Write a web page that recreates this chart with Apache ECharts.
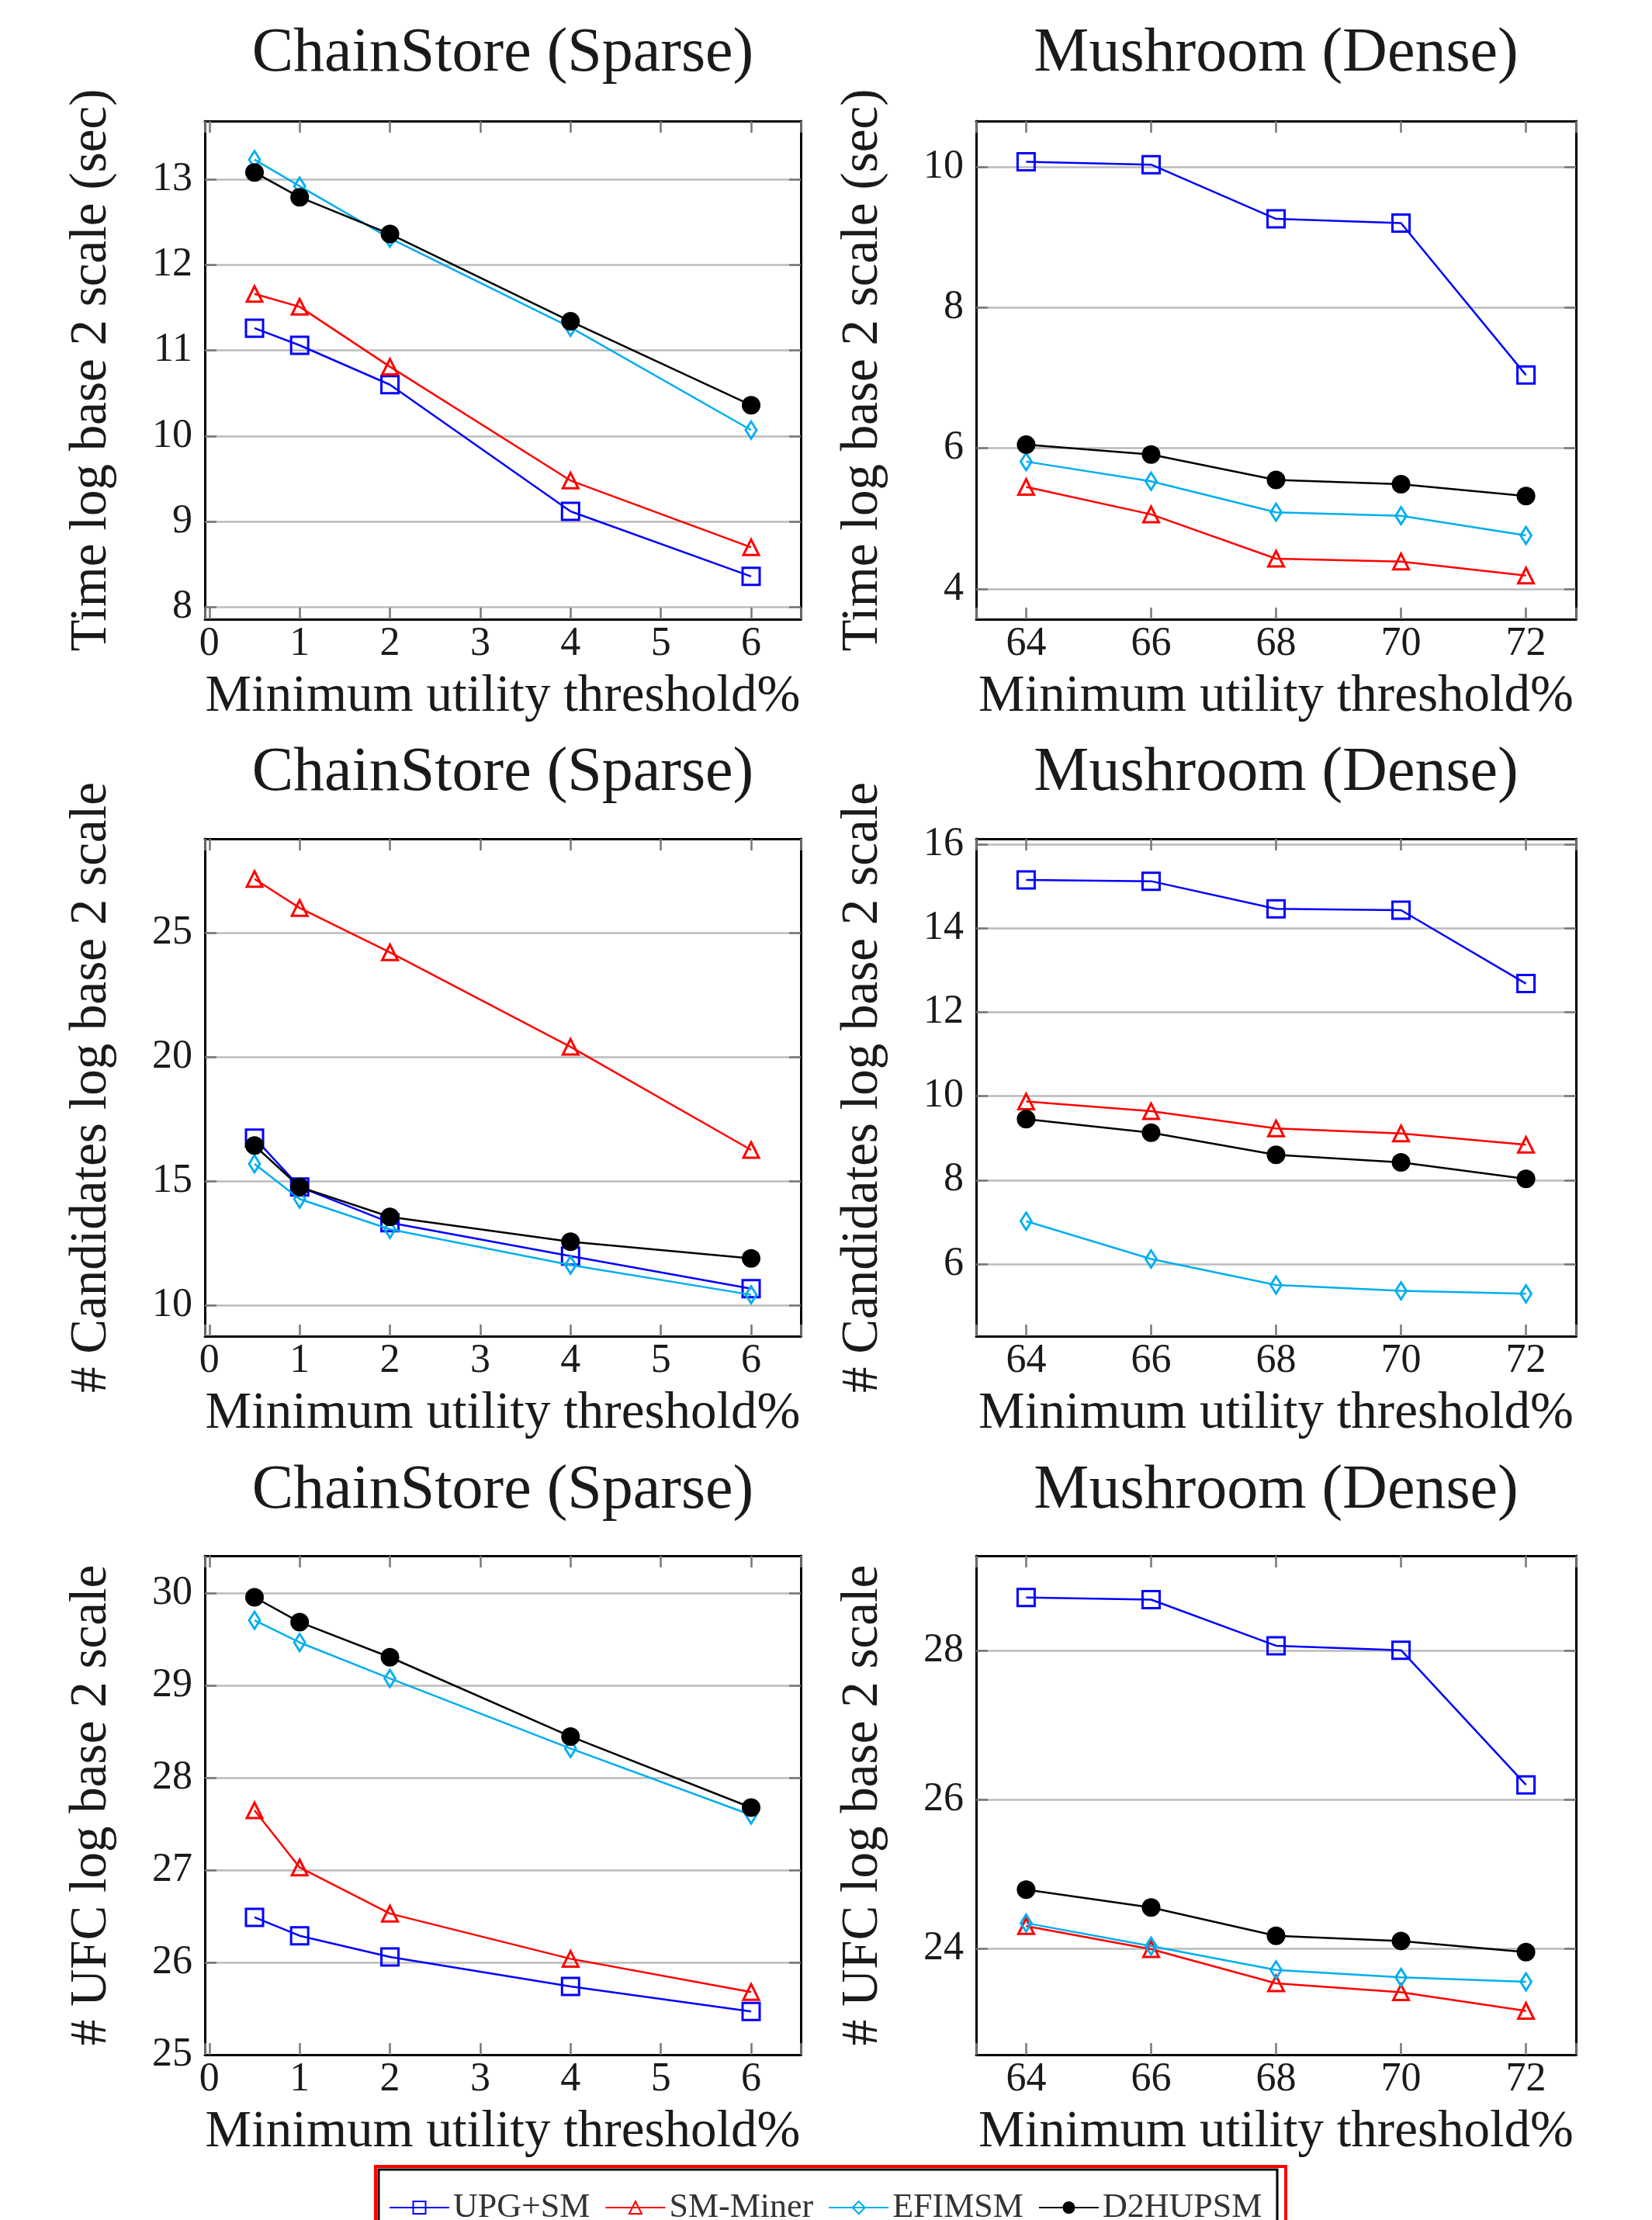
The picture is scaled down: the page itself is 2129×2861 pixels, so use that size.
<!DOCTYPE html>
<html>
<head>
<meta charset="utf-8">
<script src="https://cdn.jsdelivr.net/npm/echarts@6/dist/echarts.min.js"></script>
<style>
html, body { margin: 0; padding: 0; background: #fff; }
#chart { width: 2129px; height: 2861px; }
</style>
</head>
<body>
<div id="chart"></div>
<script>
// x values
var chainX = [0.5, 1, 2, 4, 6];
var mushX = [64, 66, 68, 70, 72];

// tick labels
var chainTicks = [0, 1, 2, 3, 4, 5, 6];
var mushTicks = [64, 66, 68, 70, 72];
var timeChainTicks = [8, 9, 10, 11, 12, 13];
var timeMushTicks = [4, 6, 8, 10];
var candChainTicks = [10, 15, 20, 25];
var candMushTicks = [6, 8, 10, 12, 14, 16];
var ufcChainTicks = [25, 26, 27, 28, 29, 30];
var ufcMushTicks = [24, 26, 28];

// Time log2 (sec)
var upgTimeChain = [11.26, 11.06, 10.60, 9.12, 8.36];
var smTimeChain = [11.66, 11.51, 10.81, 9.48, 8.70];
var efiTimeChain = [13.23, 12.92, 12.31, 11.27, 10.07];
var d2hTimeChain = [13.08, 12.79, 12.36, 11.34, 10.36];

var upgTimeMush = [10.07, 10.03, 9.26, 9.20, 7.04];
var smTimeMush = [5.45, 5.06, 4.43, 4.39, 4.19];
var efiTimeMush = [5.81, 5.53, 5.09, 5.04, 4.76];
var d2hTimeMush = [6.05, 5.91, 5.55, 5.49, 5.32];

// # Candidates log2
var upgCandChain = [16.74, 14.77, 13.33, 11.98, 10.67];
var smCandChain = [27.19, 26.02, 24.23, 20.42, 16.26];
var efiCandChain = [15.70, 14.28, 13.06, 11.62, 10.42];
var d2hCandChain = [16.44, 14.77, 13.56, 12.56, 11.89];

var upgCandMush = [15.15, 15.12, 14.46, 14.43, 12.68];
var smCandMush = [9.87, 9.64, 9.23, 9.11, 8.84];
var efiCandMush = [7.02, 6.12, 5.50, 5.36, 5.29];
var d2hCandMush = [9.45, 9.13, 8.60, 8.42, 8.03];

// # UFC log2
var upgUfcChain = [26.49, 26.29, 26.06, 25.74, 25.47];
var smUfcChain = [27.65, 27.03, 26.53, 26.04, 25.68];
var efiUfcChain = [29.71, 29.47, 29.08, 28.32, 27.60];
var d2hUfcChain = [29.96, 29.69, 29.31, 28.45, 27.68];

var upgUfcMush = [28.72, 28.69, 28.07, 28.01, 26.20];
var smUfcMush = [24.30, 23.99, 23.53, 23.41, 23.16];
var efiUfcMush = [24.34, 24.03, 23.71, 23.61, 23.55];
var d2hUfcMush = [24.79, 24.55, 24.17, 24.10, 23.95];

var names = ['UPG+SM', 'SM-Miner', 'EFIMSM', 'D2HUPSM'];
var colors = ['#0000ff', '#ff0000', '#00aeef', '#000000'];
var symbols = ['rect', 'triangle', 'diamond', 'circle'];
var symSizes = [22, 20, [14, 22], 24];

var fontFam = 'Liberation Serif';
var txtColor = '#1a1a1a';
var xName = 'Minimum utility threshold%';

var cols = [{ left: 264, width: 768 }, { left: 1258, width: 773 }];
var rows = [{ top: 156, height: 642, title: 30 }, { top: 1081, height: 641, title: 957 }, { top: 2005, height: 643, title: 1882 }];

var panels = [
    { title: 'ChainStore (Sparse)', yName: 'Time log base 2 scale (sec)', x: chainX, xTicks: chainTicks, xr: [-0.05, 6.55], yTicks: timeChainTicks, yr: [7.86, 13.68], ys: [upgTimeChain, smTimeChain, efiTimeChain, d2hTimeChain] },
    { title: 'Mushroom (Dense)', yName: 'Time log base 2 scale (sec)', x: mushX, xTicks: mushTicks, xr: [63.2, 72.8], yTicks: timeMushTicks, yr: [3.57, 10.65], ys: [upgTimeMush, smTimeMush, efiTimeMush, d2hTimeMush] },
    { title: 'ChainStore (Sparse)', yName: '# Candidates log base 2 scale', x: chainX, xTicks: chainTicks, xr: [-0.05, 6.55], yTicks: candChainTicks, yr: [8.75, 28.81], ys: [upgCandChain, smCandChain, efiCandChain, d2hCandChain] },
    { title: 'Mushroom (Dense)', yName: '# Candidates log base 2 scale', x: mushX, xTicks: mushTicks, xr: [63.2, 72.8], yTicks: candMushTicks, yr: [4.28, 16.13], ys: [upgCandMush, smCandMush, efiCandMush, d2hCandMush] },
    { title: 'ChainStore (Sparse)', yName: '# UFC log base 2 scale', x: chainX, xTicks: chainTicks, xr: [-0.05, 6.55], yTicks: ufcChainTicks, yr: [25.0, 30.41], ys: [upgUfcChain, smUfcChain, efiUfcChain, d2hUfcChain] },
    { title: 'Mushroom (Dense)', yName: '# UFC log base 2 scale', x: mushX, xTicks: mushTicks, xr: [63.2, 72.8], yTicks: ufcMushTicks, yr: [22.57, 29.28], ys: [upgUfcMush, smUfcMush, efiUfcMush, d2hUfcMush] }
];

function tickFmt(ticks) {
    return function (v) {
        var r = Math.round(v);
        if (Math.abs(v - r) < 1e-6 && ticks.indexOf(r) >= 0) return String(r);
        return '';
    };
}

function axisPair(isX, p, gi) {
    var ticks = isX ? p.xTicks : p.yTicks;
    var range = isX ? p.xr : p.yr;
    var step = ticks[1] - ticks[0];
    var base = {
        type: 'value',
        gridIndex: gi,
        min: range[0],
        max: range[1],
        minInterval: step,
        maxInterval: step,
        z: isX ? 4 : 2,
        axisLine: { show: true, onZero: false, lineStyle: { color: '#000', width: 3 } },
        axisTick: { show: true, inside: true, length: 15, lineStyle: { color: '#777', width: 2.5 } },
        splitLine: { show: false }
    };
    var main = echarts.util.merge({
        position: isX ? 'bottom' : 'left',
        axisLabel: {
            show: true, formatter: tickFmt(ticks), margin: isX ? 32 : 16,
            fontFamily: fontFam, fontSize: 52, color: txtColor,
            verticalAlign: 'middle', showMinLabel: true, showMaxLabel: true
        },
        name: isX ? xName : p.yName,
        nameLocation: 'middle',
        nameGap: isX ? 100 : 146,
        nameTextStyle: { fontFamily: fontFam, fontSize: 67, color: txtColor, verticalAlign: 'middle' },
        splitLine: isX ? { show: false } : { show: true, lineStyle: { color: '#bbbbbb', width: 2.5 } }
    }, base, false);
    var mirror = echarts.util.merge({
        position: isX ? 'top' : 'right',
        axisLabel: { show: false }
    }, base, false);
    return [main, mirror];
}

var grids = [], xAxes = [], yAxes = [], titles = [], series = [];
panels.forEach(function (p, i) {
    var c = cols[i % 2], r = rows[Math.floor(i / 2)];
    grids.push({ left: c.left, top: r.top, width: c.width, height: r.height, containLabel: false });
    titles.push({
        text: p.title, left: c.left + c.width / 2, top: r.title, textAlign: 'center', padding: 0,
        textStyle: { fontFamily: fontFam, fontSize: 80, fontWeight: 'normal', color: txtColor, lineHeight: 80 }
    });
    xAxes = xAxes.concat(axisPair(true, p, i));
    yAxes = yAxes.concat(axisPair(false, p, i));
    p.ys.forEach(function (vals, k) {
        var pts = p.x.map(function (xv, j) { return [xv, vals[j]]; });
        var filled = k === 3;
        series.push({
            name: names[k],
            type: 'line',
            xAxisIndex: 2 * i,
            yAxisIndex: 2 * i,
            data: pts,
            symbol: symbols[k],
            symbolSize: symSizes[k],
            showAllSymbol: true,
            lineStyle: { color: colors[k], width: 2.5 },
            itemStyle: filled ? { color: colors[k] } : { color: 'rgba(255,255,255,0)', borderColor: colors[k], borderWidth: 3 },
            z: 3 + k
        });
    });
});

var option = {
    animation: false,
    backgroundColor: '#fff',
    textStyle: { fontFamily: fontFam },
    title: titles,
    grid: grids,
    xAxis: xAxes,
    yAxis: yAxes,
    legend: {
        data: names,
        left: 501,
        top: 2823,
        padding: 0,
        itemWidth: 77,
        itemHeight: 20,
        itemGap: 19,
        textStyle: { fontFamily: fontFam, fontSize: 44, color: '#333' }
    },
    graphic: [
        { type: 'rect', shape: { x: 484, y: 2792, width: 1173, height: 120 }, style: { fill: null, stroke: '#ff0000', lineWidth: 4 } },
        { type: 'rect', shape: { x: 488, y: 2796, width: 1158, height: 120 }, style: { fill: null, stroke: '#000', lineWidth: 3 } }
    ],
    series: series
};

var myChart = echarts.init(document.getElementById('chart'));
myChart.setOption(option);
</script>
</body>
</html>
